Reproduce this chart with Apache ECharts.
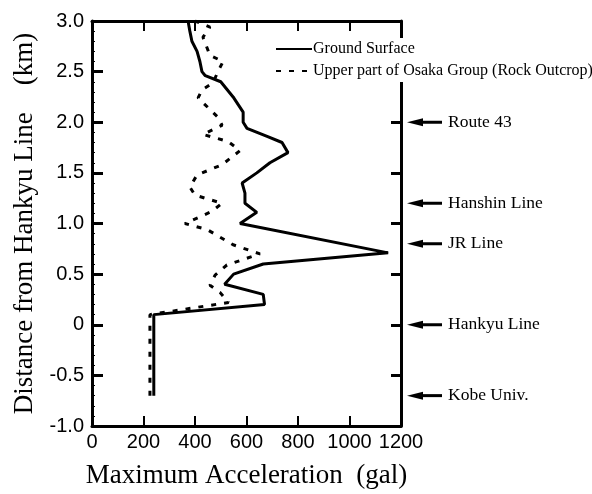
<!DOCTYPE html>
<html>
<head>
<meta charset="utf-8">
<script src="https://cdn.jsdelivr.net/npm/echarts@6/dist/echarts.min.js"></script>
<style>
  html, body { margin: 0; padding: 0; background: #fff; }
  #chart { width: 592px; height: 494px; }
</style>
</head>
<body>
<div id="chart"></div>
<script>
// valores: [aceleração (gal), distância (km)]
const groundSurface = [
  [240, -0.7], [240, 0.1], [670, 0.2], [665, 0.3], [515, 0.4], [550, 0.5],
  [665, 0.6], [1150, 0.71], [575, 1.0], [640, 1.11], [594, 1.2], [594, 1.3],
  [583, 1.4], [640, 1.5], [691, 1.6], [761, 1.7], [738, 1.8], [680, 1.86],
  [602, 1.94], [587, 2.0], [587, 2.1], [548, 2.25], [500, 2.4], [440, 2.46],
  [427, 2.5], [419, 2.6], [408, 2.7], [388, 2.8], [380, 2.9], [373, 3.0]
]
const osakaGroup = [
  [225, -0.7], [225, 0.1], [530, 0.22], [497, 0.32], [458, 0.39], [478, 0.49],
  [524, 0.59], [652, 0.7], [548, 0.79], [447, 0.94], [361, 1.0], [466, 1.12],
  [505, 1.2], [400, 1.28], [380, 1.36], [408, 1.48], [505, 1.58], [575, 1.72],
  [528, 1.81], [431, 1.88], [505, 1.97], [489, 2.05], [412, 2.24], [427, 2.32],
  [470, 2.39], [489, 2.5], [509, 2.6], [458, 2.66], [431, 2.84], [458, 2.94],
  [400, 3.0]
]
const landmarkNames = ['Route 43', 'Hanshin Line', 'JR Line', 'Hankyu Line', 'Kobe Univ.']
const landmarkKm = [2.0, 1.2, 0.8, 0.0, -0.7]

const seriesNames = ['Ground Surface', 'Upper part of Osaka Group (Rock Outcrop)']
const xTitle = 'Maximum Acceleration  (gal)'
const yTitle = 'Distance from Hankyu Line    (km)'

const SERIF = '"Liberation Serif", "DejaVu Serif", serif'
const SANS = '"Liberation Sans", Arial, sans-serif'

const chart = echarts.init(document.getElementById('chart'))

// setas com rótulos, posicionadas pela escala do eixo y
function renderLandmark (params, api) {
  const p = api.coord([api.value(0), api.value(1)])
  const tip = p[0] + 6
  const y = p[1]
  return {
    type: 'group',
    children: [
      { type: 'polygon', shape: { points: [[tip, y], [tip + 16, y - 4], [tip + 16, y + 4]] }, style: { fill: '#000' } },
      { type: 'line', shape: { x1: tip + 12, y1: y, x2: tip + 35, y2: y }, style: { stroke: '#000', lineWidth: 3 } },
      { type: 'text', x: tip + 41, y: y, style: { text: landmarkNames[params.dataIndex], fill: '#000', font: '17.5px ' + SERIF, textVerticalAlign: 'middle' } }
    ]
  }
}

const axisLine = { onZero: false, lineStyle: { color: '#000', width: 3 } }

chart.setOption({
  animation: false,
  color: ['#000', '#000'],
  grid: { left: 92, right: 191, top: 21, bottom: 68 },
  legend: {
    orient: 'vertical',
    left: 271,
    top: 38,
    padding: [3, 0, 3, 4],
    backgroundColor: '#fff',
    itemWidth: 36,
    itemHeight: 12,
    itemGap: 6,
    data: seriesNames,
    itemStyle: { opacity: 0 },
    textStyle: { fontFamily: SERIF, fontSize: 16, color: '#000', padding: [0, 0, 0, -4] }
  },
  xAxis: [
    {
      type: 'value', min: 0, max: 1200, interval: 200,
      name: xTitle, nameLocation: 'middle', nameGap: 36,
      nameTextStyle: { fontFamily: SERIF, fontSize: 27, color: '#000' },
      axisLine: axisLine,
      axisTick: { inside: true, length: 10, lineStyle: { width: 2, color: '#000' } },
      axisLabel: { fontFamily: SANS, fontSize: 20, color: '#000', margin: 6, formatter: v => String(v) },
      splitLine: { show: false }
    },
    {
      type: 'value', position: 'top', min: 0, max: 1200, interval: 200,
      axisLine: axisLine,
      axisTick: { inside: true, length: 10, lineStyle: { width: 2, color: '#000' } },
      axisLabel: { show: false },
      splitLine: { show: false }
    }
  ],
  yAxis: [
    {
      type: 'value', min: -1, max: 3, interval: 0.5,
      name: yTitle, nameLocation: 'middle', nameGap: 53,
      nameTextStyle: { fontFamily: SERIF, fontSize: 27, color: '#000' },
      axisLine: axisLine,
      axisTick: { inside: true, length: 11, lineStyle: { width: 3, color: '#000' } },
      minorTick: { show: true, splitNumber: 5, length: 3, lineStyle: { color: '#000', width: 1 } },
      axisLabel: { fontFamily: SANS, fontSize: 20, color: '#000', margin: 8,
        formatter: v => (v === 0 ? '0' : v.toFixed(1)) },
      splitLine: { show: false }
    },
    {
      type: 'value', position: 'right', min: -1, max: 3, interval: 0.5,
      axisLine: axisLine,
      axisTick: { inside: true, length: 10, lineStyle: { width: 3, color: '#000' } },
      axisLabel: { show: false },
      splitLine: { show: false }
    }
  ],
  series: [
    {
      name: seriesNames[0], type: 'line', data: groundSurface,
      symbol: 'none', itemStyle: { color: '#000' }, lineStyle: { color: '#000', width: 3 }
    },
    {
      name: seriesNames[1], type: 'line', data: osakaGroup,
      symbol: 'none', itemStyle: { color: '#000' }, lineStyle: { color: '#000', width: 3, type: [5, 8] }
    },
    {
      type: 'custom', clip: false, silent: true,
      data: landmarkKm.map(km => [1200, km]),
      renderItem: renderLandmark
    }
  ]
})
</script>
</body>
</html>
